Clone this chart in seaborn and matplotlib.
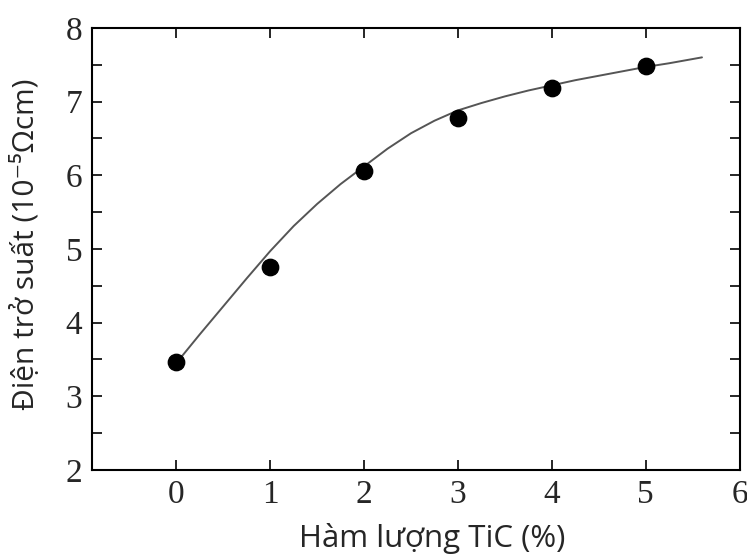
import numpy as np
import pandas as pd
import matplotlib
matplotlib.use("Agg")
import matplotlib.pyplot as plt
from matplotlib.ticker import MultipleLocator
import seaborn as sns

# measured points
tic_pct = [0, 1, 2, 3, 4, 5]
resist = [3.46, 4.75, 6.06, 6.77, 7.19, 7.48]

# fitted curve
curve_x = [0, 0.25, 0.5, 0.75, 1, 1.25, 1.5, 1.75, 2, 2.25, 2.5, 2.75,
           3, 3.25, 3.5, 3.75, 4, 4.25, 4.5, 4.75, 5, 5.25, 5.6]
curve_y = [3.45, 3.84, 4.22, 4.6, 4.97, 5.31, 5.61, 5.88, 6.12, 6.36, 6.57, 6.74,
           6.88, 6.98, 7.07, 7.15, 7.22, 7.29, 7.35, 7.41, 7.47, 7.52, 7.6]

xticks = [0, 1, 2, 3, 4, 5, 6]
yticks = [2, 3, 4, 5, 6, 7, 8]

df_pts = pd.DataFrame({"x": tic_pct, "y": resist})
df_fit = pd.DataFrame({"x": curve_x, "y": curve_y})

sns.set_style("ticks")
plt.rcParams['font.family'] = ['Open Sans', 'DejaVu Sans']

fig = plt.figure(figsize=(7.47, 5.58), dpi=100)
ax = fig.add_axes([0.123, 0.158, 0.867, 0.792])

sns.lineplot(data=df_fit, x="x", y="y", color="#555555", linewidth=1.4, ax=ax)
sns.scatterplot(data=df_pts, x="x", y="y", color="black", s=140, edgecolor="black", zorder=3, ax=ax)

ax.set_xlim(-0.9, 6)
ax.set_ylim(2, 8)
ax.set_xticks(xticks)
ax.set_yticks(yticks)
ax.yaxis.set_minor_locator(MultipleLocator(0.5))
ax.tick_params(which="both", direction="in", top=True, right=True, length=7, width=1.4)
ax.tick_params(which="both", labelsize=24, pad=7)
for lab in ax.get_xticklabels() + ax.get_yticklabels():
    lab.set_family("Liberation Serif")
for sp in ax.spines.values():
    sp.set_linewidth(1.5)
    sp.set_color("black")

ax.set_xlabel("Hàm lượng TiC (%)", fontsize=22.5)
ax.set_ylabel("Điện trở suất (10⁻⁵Ωcm)", fontsize=21.5)
ax.xaxis.set_label_coords(0.525, -0.12)
ax.yaxis.set_label_coords(-0.079, 0.51)

plt.savefig("out.png", dpi=100)
